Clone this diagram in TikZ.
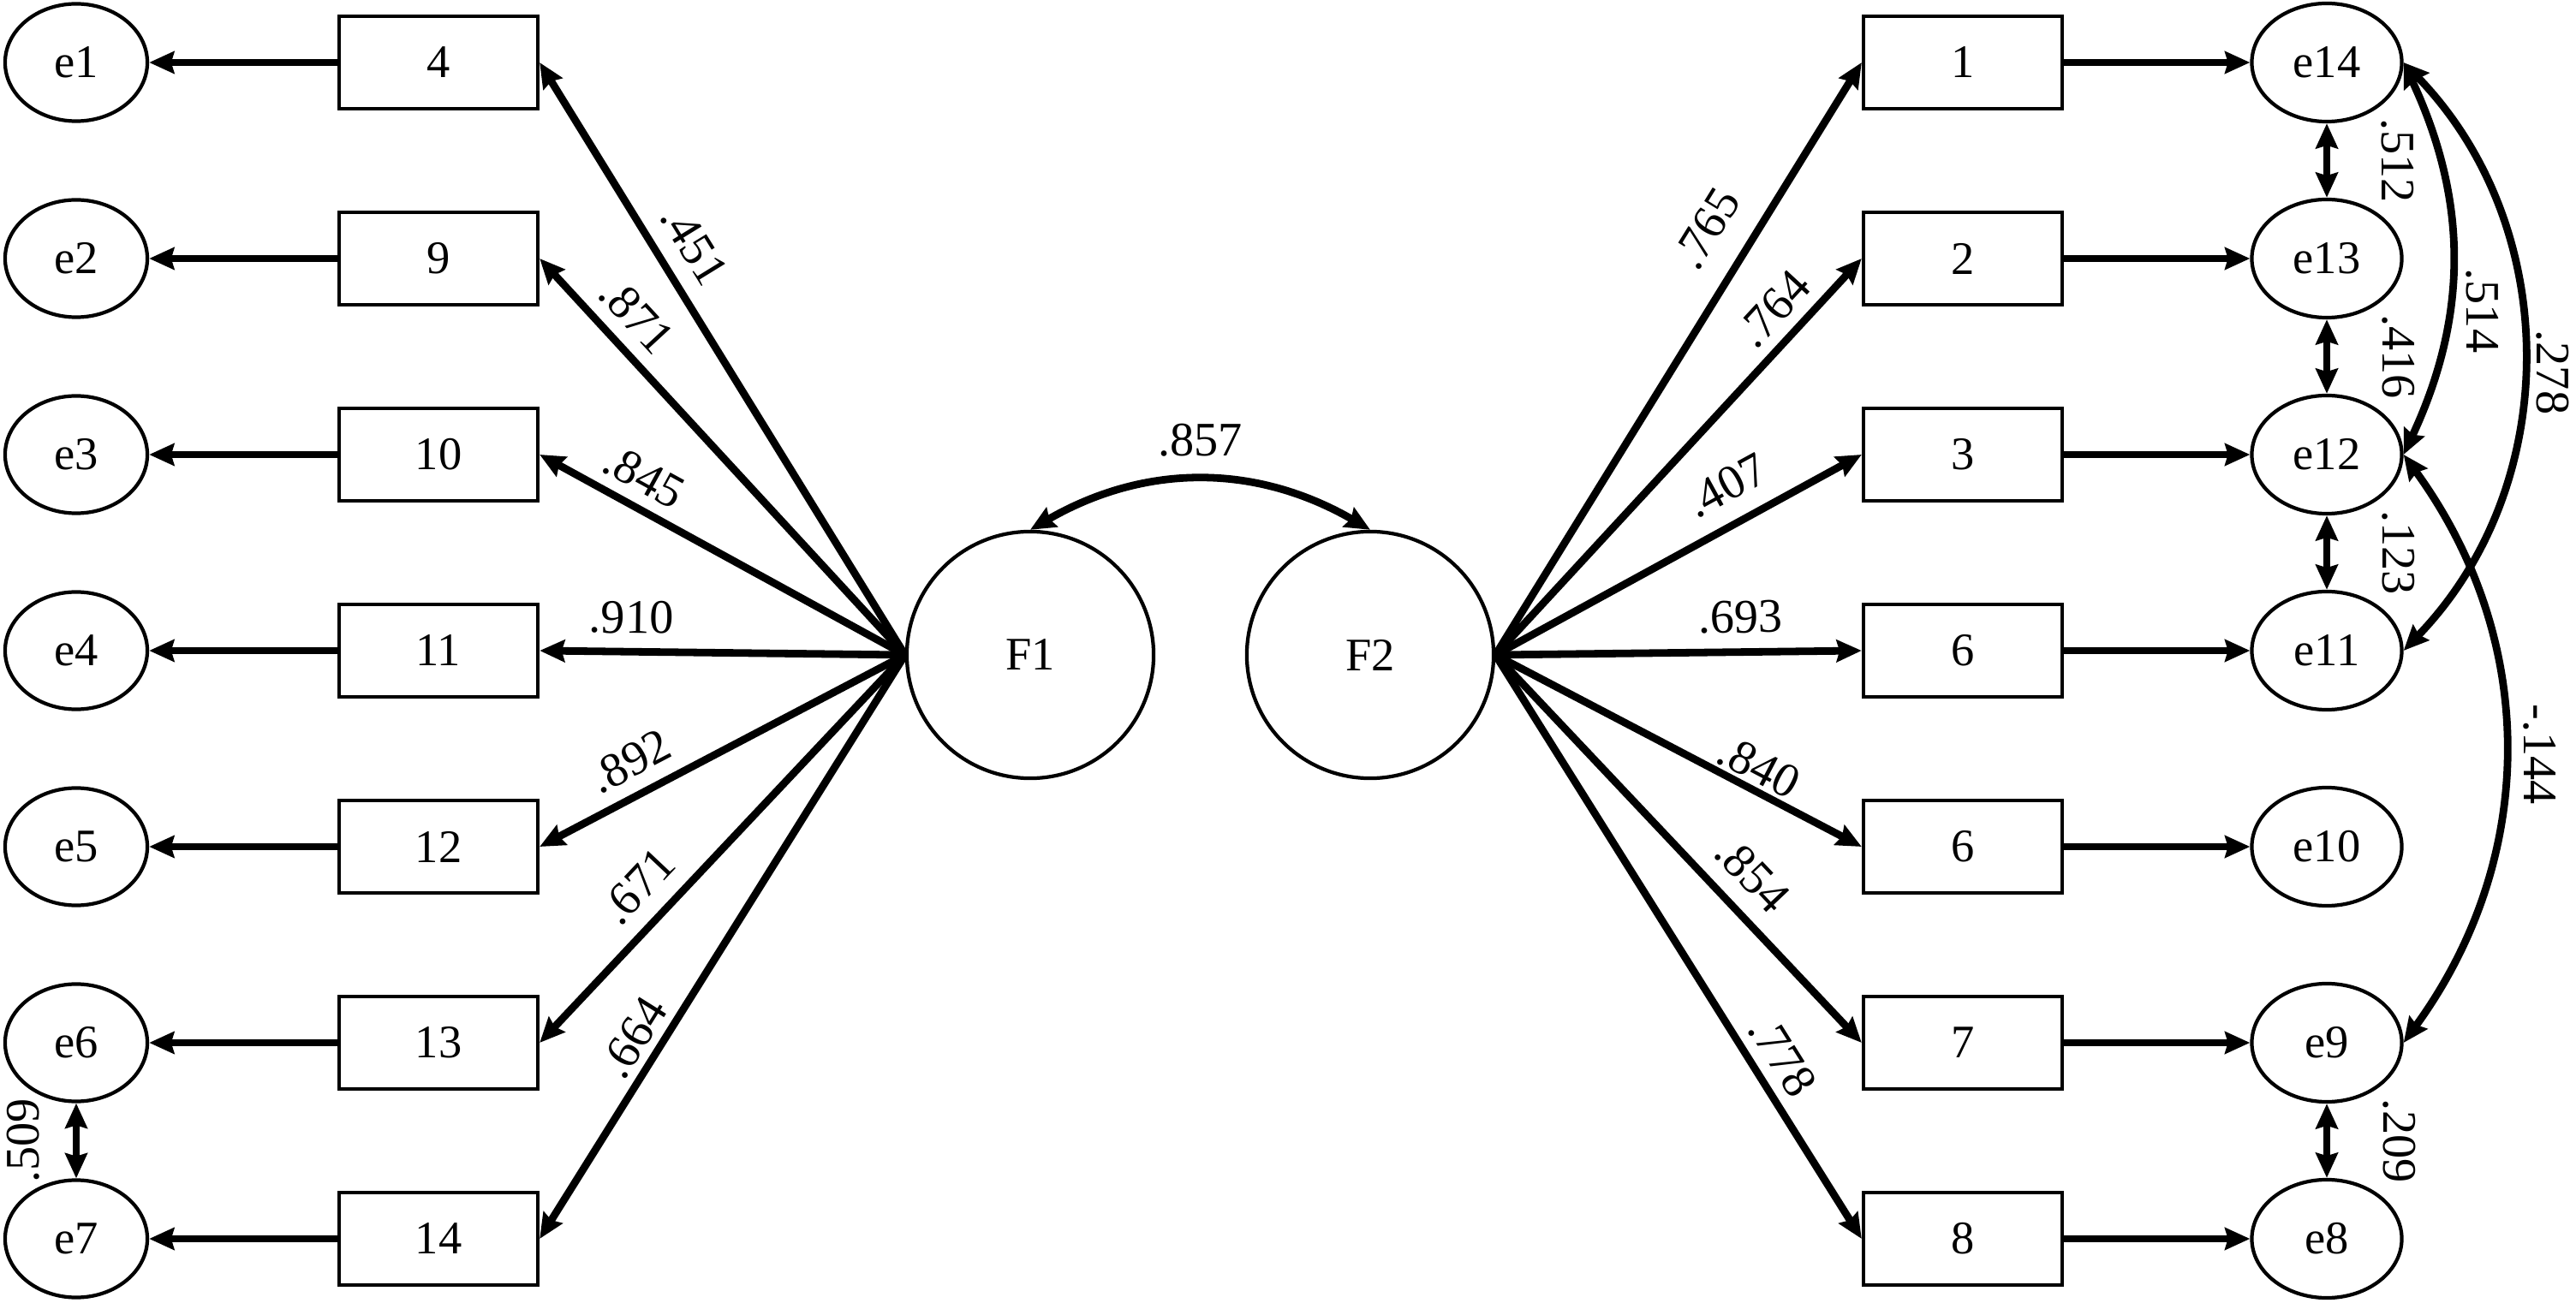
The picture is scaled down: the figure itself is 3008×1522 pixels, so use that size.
\documentclass[tikz,border=0pt]{standalone}
\usepackage{fontspec}
\setmainfont{Liberation Serif}
\usetikzlibrary{arrows.meta,shapes.geometric}
\tikzset{
  tipA/.tip={Stealth[length=8.3pt,width=7.3pt,inset=1pt]},
}
\begin{document}
\begin{tikzpicture}[x=0.01cm,y=0.01cm,
  every node/.style={font=\fontsize{15.5pt}{18pt}\selectfont},
  obs/.style={draw, line width=1.2pt, rectangle, minimum width=2.32cm, minimum height=1.08cm, inner sep=0pt},
  errL/.style={draw, line width=1.2pt, ellipse, minimum width=1.66cm, minimum height=1.37cm, inner sep=0pt},
  errR/.style={draw, line width=1.2pt, ellipse, minimum width=1.75cm, minimum height=1.38cm, inner sep=0pt},
  lat/.style={draw, line width=1.2pt, circle, minimum size=2.88cm, inner sep=0pt},
  load/.style={line width=2.5pt, -tipA},
  cov/.style={line width=2.5pt, tipA-tipA},
  lbl/.style={font=\fontsize{16pt}{18pt}\selectfont, inner sep=1pt, sloped},
  lblv/.style={font=\fontsize{16pt}{18pt}\selectfont, inner sep=1pt, rotate=-90},
]
\useasboundingbox (0,0) rectangle (3008,-1522);

% left error terms
\node[errL] (e1) at (89,-73) {e1};
\node[errL] (e2) at (89,-302) {e2};
\node[errL] (e3) at (89,-531) {e3};
\node[errL] (e4) at (89,-760) {e4};
\node[errL] (e5) at (89,-989) {e5};
\node[errL] (e6) at (89,-1218) {e6};
\node[errL] (e7) at (89,-1447) {e7};

% left indicators
\node[obs] (b4) at (512,-73) {4};
\node[obs] (b9) at (512,-302) {9};
\node[obs] (b10) at (512,-531) {10};
\node[obs] (b11) at (512,-760) {11};
\node[obs] (b12) at (512,-989) {12};
\node[obs] (b13) at (512,-1218) {13};
\node[obs] (b14) at (512,-1447) {14};

% factors
\node[lat] (F1) at (1203,-765) {F1};
\node[lat] (F2) at (1600,-765) {F2};

% right indicators
\node[obs] (r1) at (2292,-73) {1};
\node[obs] (r2) at (2292,-302) {2};
\node[obs] (r3) at (2292,-531) {3};
\node[obs] (r6a) at (2292,-760) {6};
\node[obs] (r6b) at (2292,-989) {6};
\node[obs] (r7) at (2292,-1218) {7};
\node[obs] (r8) at (2292,-1447) {8};

% right error terms
\node[errR] (e14) at (2717,-73) {e14};
\node[errR] (e13) at (2717,-302) {e13};
\node[errR] (e12) at (2717,-531) {e12};
\node[errR] (e11) at (2717,-760) {e11};
\node[errR] (e10) at (2717,-989) {e10};
\node[errR] (e9) at (2717,-1218) {e9};
\node[errR] (e8) at (2717,-1447) {e8};

% loadings F1
\draw[load] (F1.west) -- node[lbl, pos=0.66, above=0.15cm] {.451} (b4.east);
\draw[load] (F1.west) -- node[lbl, pos=0.80, above=0.11cm] {.871} (b9.east);
\draw[load] (F1.west) -- node[lbl, pos=0.755, above=0.09cm] {.845} (b10.east);
\draw[load] (F1.west) -- node[lbl, pos=0.75, above=0.13cm] {.910} (b11.east);
\draw[load] (F1.west) -- node[lbl, pos=0.71, above=0.12cm] {.892} (b12.east);
\draw[load] (F1.west) -- node[lbl, pos=0.66, above=0.15cm] {.671} (b13.east);
\draw[load] (F1.west) -- node[lbl, pos=0.68, above=0.05cm] {.664} (b14.east);

% loadings F2
\draw[load] (F2.east) -- node[lbl, pos=0.68, above=0.25cm] {.765} (r1.west);
\draw[load] (F2.east) -- node[lbl, pos=0.82, above=0.09cm] {.764} (r2.west);
\draw[load] (F2.east) -- node[lbl, pos=0.68, above=0.17cm] {.407} (r3.west);
\draw[load] (F2.east) -- node[lbl, pos=0.67, above=0.14cm] {.693} (r6a.west);
\draw[load] (F2.east) -- node[lbl, pos=0.69, above=0.0cm] {.840} (r6b.west);
\draw[load] (F2.east) -- node[lbl, pos=0.63, above=0.15cm] {.854} (r7.west);
\draw[load] (F2.east) -- node[lbl, pos=0.715, above=0.08cm] {.778} (r8.west);

% residual paths left
\draw[load] (b4.west) -- (e1.east);
\draw[load] (b9.west) -- (e2.east);
\draw[load] (b10.west) -- (e3.east);
\draw[load] (b11.west) -- (e4.east);
\draw[load] (b12.west) -- (e5.east);
\draw[load] (b13.west) -- (e6.east);
\draw[load] (b14.west) -- (e7.east);

% residual paths right
\draw[load] (r1.east) -- (e14.west);
\draw[load] (r2.east) -- (e13.west);
\draw[load] (r3.east) -- (e12.west);
\draw[load] (r6a.east) -- (e11.west);
\draw[load] (r6b.east) -- (e10.west);
\draw[load] (r7.east) -- (e9.west);
\draw[load] (r8.east) -- (e8.west);

% factor covariance
\draw[cov] (F1.north) to[bend left=30] node[lbl, above=0.2cm] {.857} (F2.north);

% error covariances
\draw[cov] (e7.north) -- node[lbl, above=0.35cm] {.509} (e6.south);
\draw[cov] (e14.south) -- node[lbl, above=0.56cm] {.512} (e13.north);
\draw[cov] (e13.south) -- node[lbl, above=0.57cm] {.416} (e12.north);
\draw[cov] (e12.south) -- node[lbl, above=0.57cm] {.123} (e11.north);
\draw[cov] (e9.south) -- node[lbl, above=0.58cm] {.209} (e8.north);

\draw[cov] (e14.east) to[bend left=25] (e12.east);
\draw[cov] (e14.east) to[bend left=44] (e11.east);
\draw[cov] (e12.east) to[bend left=36] (e9.east);
\node[lblv] (l514) at (2899,-363) {.514};
\node[lblv] (l278) at (2981,-435) {.278};
\node[lblv] (l144) at (2966,-881) {-.144};
\end{tikzpicture}
\end{document}
